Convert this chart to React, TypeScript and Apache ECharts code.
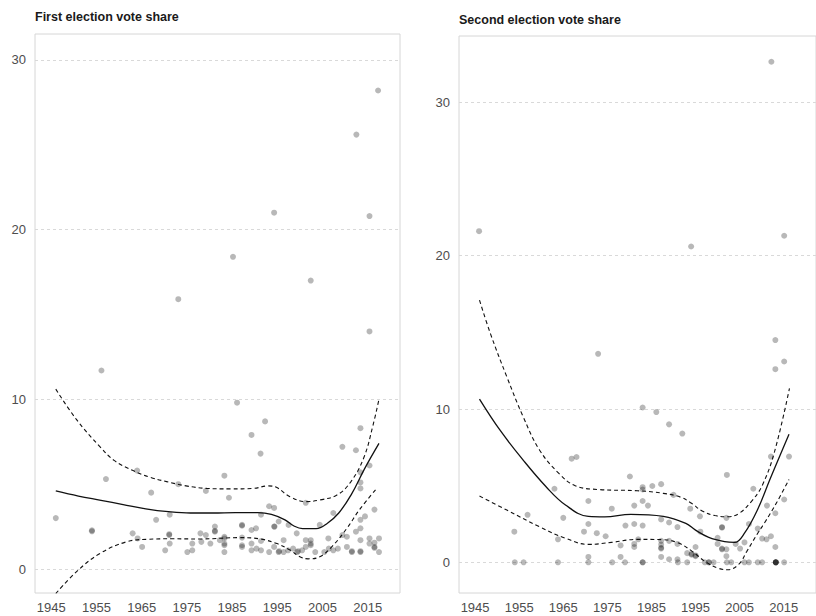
import React, { useEffect, useRef } from "react";
import * as echarts from "echarts";

// ---------- data ----------
const xTickYears = [1945, 1955, 1965, 1975, 1985, 1995, 2005, 2015];
const yTickValues = [0, 10, 20, 30];

const firstTitle = "First election vote share";
const secondTitle = "Second election vote share";

// [year, vote share]
const firstPoints: [number, number][] = [
  [2017.3, 28.2], [2012.5, 25.6], [1994.3, 21.0], [2015.4, 20.8], [1985.2, 18.4],
  [2002.4, 17.0], [1973.1, 15.9], [2015.4, 14.0], [1956.1, 11.7], [1986.1, 9.8],
  [1992.3, 8.7], [2013.4, 8.3], [1989.3, 7.9], [2009.4, 7.2], [2012.4, 7.0],
  [1991.3, 6.8], [2015.4, 6.1], [1964.0, 5.8], [2013.4, 5.7], [1983.3, 5.5],
  [1957.1, 5.3], [2013.4, 5.1], [1973.1, 5.0], [2013.4, 4.75], [1979.2, 4.6],
  [1967.1, 4.5], [1984.3, 4.2], [2001.3, 3.9], [1993.2, 3.7], [1994.3, 3.6],
  [2016.5, 3.5], [2007.4, 3.3], [1991.4, 3.2], [1971.2, 3.2], [2014.4, 3.1],
  [1946.0, 3.0], [1968.2, 2.9], [2013.4, 2.9], [1995.3, 2.8], [2004.4, 2.6],
  [1997.5, 2.6], [1994.4, 2.5], [1981.2, 2.5], [1987.2, 2.6], [1987.2, 2.55],
  [2013.4, 2.4], [1990.3, 2.4], [1989.3, 2.3], [1954.0, 2.28], [1954.0, 2.22],
  [1981.2, 2.2], [1981.2, 2.25], [1963.0, 2.1], [1978.0, 2.1], [1979.2, 2.0],
  [1971.1, 2.0], [1971.1, 2.05], [2012.4, 2.2], [2009.4, 2.0], [2010.4, 1.9],
  [1999.3, 2.1], [1987.2, 1.85], [1964.1, 1.8], [2006.3, 1.8], [1983.3, 1.9],
  [1983.3, 1.8], [1982.3, 1.7], [1996.4, 1.7], [2001.3, 1.7], [2002.4, 1.7],
  [2015.4, 1.8], [2017.5, 1.8], [2013.4, 1.7], [2016.5, 1.55], [1971.2, 1.5],
  [1976.2, 1.5], [1980.2, 1.5], [1989.3, 1.5], [1987.2, 1.3], [1987.2, 1.4],
  [1983.3, 1.4], [1983.3, 1.5], [1965.1, 1.3], [1970.2, 1.1], [1975.1, 1.0],
  [1976.2, 1.1], [1983.3, 1.0], [1989.3, 1.1], [1990.4, 1.2], [1991.4, 1.1],
  [1991.4, 1.65], [1993.2, 1.0], [1994.3, 1.3], [1995.3, 1.0], [1995.4, 1.05],
  [1996.4, 1.0], [1997.4, 1.1], [1998.5, 1.2], [1999.4, 1.0], [1999.6, 1.05],
  [2000.5, 1.1], [2001.3, 1.3], [2002.4, 1.4], [2002.4, 1.5], [2003.4, 1.0],
  [2005.4, 1.0], [2006.4, 1.2], [2007.4, 1.1], [2008.4, 1.2], [2010.4, 1.3],
  [2011.5, 1.0], [2011.5, 1.05], [2013.4, 1.0], [2013.4, 1.05], [2016.5, 1.25],
  [2016.5, 1.3], [2017.5, 1.0], [2015.4, 1.5], [1978.2, 1.6], [1994.3, 2.5],
];

const firstFit: [number, number][] = [
  [1946.0, 4.6], [1951.0, 4.3], [1956.0, 4.05], [1960.9, 3.8], [1965.9, 3.55],
  [1970.9, 3.38], [1975.8, 3.3], [1980.8, 3.3], [1985.7, 3.32], [1990.7, 3.32],
  [1993.7, 3.22], [1996.7, 2.9], [1998.6, 2.55], [2000.6, 2.38], [2003.6, 2.38],
  [2006.1, 2.7], [2008.6, 3.3], [2011.4, 4.4], [2014.3, 5.9], [2017.5, 7.4],
];
const firstUpper: [number, number][] = [
  [1946.0, 10.6], [1950.6, 8.8], [1955.8, 7.2], [1958.9, 6.4], [1963.1, 5.8],
  [1966.9, 5.4], [1970.5, 5.15], [1974.8, 4.9], [1979.4, 4.75], [1984.7, 4.72],
  [1989.7, 4.75], [1993.0, 4.9], [1994.9, 4.8], [1997.8, 4.26], [2001.3, 3.97],
  [2004.4, 4.07], [2008.2, 4.36], [2011.3, 5.15], [2014.2, 6.6], [2016.2, 8.5],
  [2017.5, 10.0],
];
const firstLower: [number, number][] = [
  [1946.0, -1.45], [1950.6, -0.15], [1955.8, 0.92], [1961.6, 1.6], [1966.1, 1.75],
  [1971.8, 1.78], [1977.9, 1.77], [1986.7, 1.85], [1991.2, 1.77], [1994.9, 1.5],
  [1997.8, 1.12], [2000.0, 0.72], [2001.8, 0.6], [2004.4, 0.72], [2007.2, 1.35],
  [2010.4, 2.4], [2013.2, 3.5], [2017.0, 4.75],
];

const secondPoints: [number, number][] = [
  [1945.9, 21.6], [1994.0, 20.6], [2012.2, 32.65], [2015.1, 21.3], [2013.1, 14.5],
  [2013.1, 12.6], [2015.1, 13.1], [1972.9, 13.6], [1983.0, 10.1], [1986.1, 9.8],
  [1989.0, 9.0], [1992.0, 8.4], [1966.9, 6.76], [1968.0, 6.87], [2012.1, 6.9],
  [2016.2, 6.9], [2002.1, 5.7], [1980.1, 5.6], [1963.0, 4.8], [1983.0, 4.9],
  [1983.0, 4.75], [1985.2, 4.98], [1987.2, 5.1], [2008.1, 4.8], [1990.0, 4.4],
  [1970.7, 4.0], [1983.0, 4.0], [1984.2, 3.7], [1981.1, 3.7], [1993.8, 3.5],
  [2015.1, 4.1], [2011.2, 3.7], [1976.0, 3.5], [1956.9, 3.1], [1965.0, 2.9],
  [1996.0, 3.0], [2002.0, 2.9], [1987.2, 2.8], [2013.1, 3.2], [1970.7, 2.5],
  [1981.1, 2.5], [1983.0, 2.4], [1979.1, 2.4], [1989.0, 2.6], [1990.9, 2.3],
  [2001.0, 2.26], [2001.0, 2.3], [2007.1, 2.5], [2009.1, 2.2], [1953.9, 2.0],
  [1969.7, 2.0], [1972.6, 1.9], [1974.6, 1.7], [2012.1, 1.7], [2011.1, 1.5],
  [2010.1, 1.55], [1963.8, 1.5], [2000.0, 1.6], [1981.1, 1.2], [1981.1, 1.0],
  [1978.0, 1.1], [1982.0, 1.5], [1987.2, 1.4], [1987.2, 1.16], [1987.2, 0.9],
  [1987.2, 0.95], [1989.0, 1.4], [1990.9, 1.2], [1995.0, 1.0], [2000.0, 1.2],
  [2001.0, 0.85], [2001.0, 0.9], [2002.0, 0.85], [2004.1, 1.2], [2005.1, 0.9],
  [2006.1, 1.3], [2013.1, 1.0], [1993.1, 0.6], [1994.1, 0.5], [1994.1, 0.55],
  [1995.0, 0.45], [1995.0, 0.4], [1970.7, 0.35], [1978.0, 0.35], [1987.2, 0.35],
  [1990.9, 0.2], [1989.0, 0.2], [2002.0, 0.4], [1996.1, 2.0],
  [1954.0, 0], [1956.0, 0], [1963.8, 0], [1970.7, 0], [1976.1, 0], [1979.0, 0],
  [1983.0, 0], [1983.0, 0], [1991.0, 0], [1993.1, 0], [1997.1, 0], [1998.0, 0],
  [1998.0, 0], [1999.1, 0], [2002.1, 0], [2003.1, 0], [2006.1, 0], [2007.1, 0],
  [2009.1, 0], [2010.1, 0], [2013.2, 0], [2013.2, 0], [2013.2, 0], [2013.2, 0],
  [2013.2, 0], [2015.1, 0],
];

const secondFit: [number, number][] = [
  [1946.0, 10.65], [1950.7, 8.6], [1955.9, 6.67], [1961.1, 4.93], [1965.5, 3.74],
  [1970.7, 3.0], [1974.4, 2.97], [1980.3, 3.13], [1987.7, 3.0], [1992.8, 2.54],
  [1995.0, 2.1], [1998.0, 1.63], [2001.6, 1.35], [2003.9, 1.3], [2006.1, 1.9],
  [2009.0, 3.4], [2012.0, 5.5], [2014.2, 7.0], [2016.2, 8.35],
];
const secondUpper: [number, number][] = [
  [1946.0, 17.1], [1948.5, 14.9], [1952.2, 12.1], [1955.9, 9.5], [1959.6, 7.33],
  [1964.0, 5.8], [1967.7, 5.0], [1972.9, 4.75], [1981.8, 4.67], [1987.7, 4.5],
  [1991.6, 4.25], [1994.1, 3.85], [1996.5, 3.35], [1999.4, 3.05], [2002.4, 2.97],
  [2004.9, 3.2], [2007.6, 3.95], [2010.1, 5.0], [2012.9, 7.2], [2016.3, 11.35],
];
const secondLower: [number, number][] = [
  [1946.0, 4.32], [1952.2, 3.41], [1959.6, 2.32], [1965.5, 1.57], [1970.7, 1.17],
  [1975.9, 1.3], [1981.8, 1.5], [1987.7, 1.48], [1991.3, 1.24], [1994.3, 0.7],
  [1997.2, 0.05], [2000.2, -0.39], [2002.4, -0.48], [2004.9, -0.1], [2006.6, 0.7],
  [2009.0, 1.85], [2010.7, 2.6], [2013.5, 3.95], [2016.2, 5.41],
];

// ---------- styling ----------
const FONT = "'Liberation Sans', Arial, Helvetica, sans-serif";
const LABEL_COLOR = "#4d4d4d";
const BORDER = "#d6d6d6";
const GRIDLINE = "#d9d9d9";
const POINT = "rgba(0,0,0,0.35)";

function xAxis(gridIndex: number, min: number, max: number) {
  return {
    type: "value",
    gridIndex,
    min,
    max,
    axisLine: { show: false },
    axisTick: { show: false, customValues: xTickYears },
    axisLabel: {
      customValues: xTickYears,
      color: LABEL_COLOR,
      fontSize: 13,
      fontFamily: FONT,
      margin: 8,
      formatter: (v: number) => String(Math.round(v)),
    },
    splitLine: { show: false },
  };
}

function yAxis(gridIndex: number, min: number, max: number, margin: number) {
  return {
    type: "value",
    gridIndex,
    min,
    max,
    axisLine: { show: false },
    axisTick: { show: false, customValues: yTickValues },
    axisLabel: {
      customValues: yTickValues,
      color: LABEL_COLOR,
      fontSize: 13,
      fontFamily: FONT,
      margin,
      formatter: (v: number) => String(Math.round(v)),
    },
    splitLine: {
      show: true,
      lineStyle: { color: GRIDLINE, width: 1, type: [3, 3] },
    },
  };
}

function panelSeries(
  idx: number,
  points: [number, number][],
  fit: [number, number][],
  upper: [number, number][],
  lower: [number, number][]
) {
  const line = (data: [number, number][], dashed: boolean) => ({
    type: "line",
    xAxisIndex: idx,
    yAxisIndex: idx,
    data,
    smooth: 0.4,
    symbol: "none",
    silent: true,
    clip: true,
    z: 3,
    lineStyle: dashed
      ? { color: "#111", width: 1.1, type: [4, 3] }
      : { color: "#111", width: 1.3, type: "solid" },
  });
  return [
    {
      type: "scatter",
      xAxisIndex: idx,
      yAxisIndex: idx,
      data: points,
      symbol: "circle",
      symbolSize: 6,
      clip: true,
      z: 2,
      itemStyle: { color: POINT, borderWidth: 0 },
    },
    line(fit, false),
    line(upper, true),
    line(lower, true),
  ];
}

export default function App() {
  const ref = useRef<HTMLDivElement>(null);

  useEffect(() => {
    if (!ref.current) return;
    const chart = echarts.init(ref.current, undefined, { renderer: "svg" });
    const titleStyle = { fontSize: 12.5, fontWeight: "bold", color: "#1a1a1a", fontFamily: FONT };
    chart.setOption({
      animation: false,
      backgroundColor: "#ffffff",
      title: [
        { text: firstTitle, left: 35, top: 10, padding: 0, textStyle: titleStyle },
        { text: secondTitle, left: 459, top: 13, padding: 0, textStyle: titleStyle },
      ],
      grid: [
        {
          left: 35,
          top: 34,
          width: 365,
          height: 559,
          show: true,
          borderColor: BORDER,
          borderWidth: 1,
          backgroundColor: "transparent",
        },
        {
          left: 459,
          top: 36,
          width: 366,
          height: 557,
          show: true,
          borderColor: BORDER,
          borderWidth: 1,
          backgroundColor: "transparent",
        },
      ],
      xAxis: [xAxis(0, 1941.4, 2022.15), xAxis(1, 1941.35, 2022.32)],
      yAxis: [yAxis(0, -1.414, 31.53, 9), yAxis(1, -2.0, 34.33, 9)],
      series: [
        ...panelSeries(0, firstPoints, firstFit, firstUpper, firstLower),
        ...panelSeries(1, secondPoints, secondFit, secondUpper, secondLower),
      ],
    });
    return () => chart.dispose();
  }, []);

  return (
    <div
      ref={ref}
      style={{ position: "absolute", left: 0, top: 0, width: 816, height: 616, background: "#fff" }}
    />
  );
}
